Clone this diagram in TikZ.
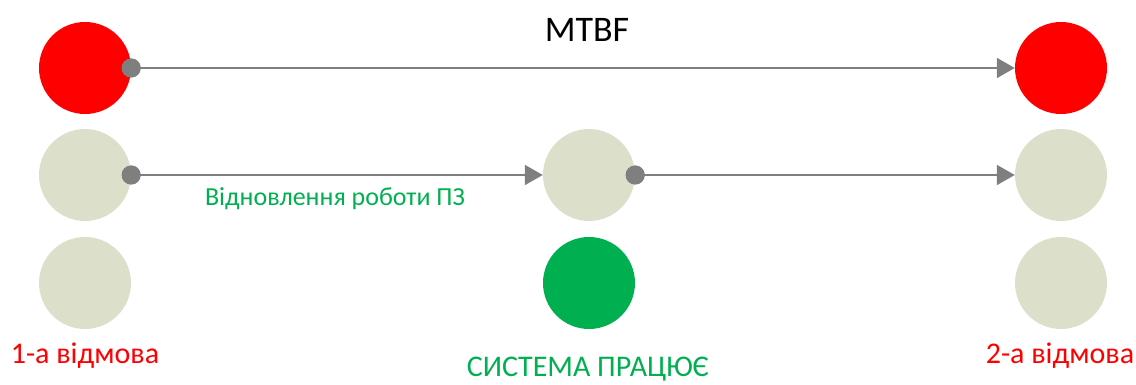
\documentclass[tikz,border=0pt]{standalone}
\usepackage{fontspec}
\setmainfont{Carlito}
\usetikzlibrary{arrows.meta}
\definecolor{cred}{HTML}{FF0000}
\definecolor{cgrey}{HTML}{DCE0CB}
\definecolor{cgreen}{HTML}{00B050}
\definecolor{cdot}{HTML}{7F7F7F}
\begin{document}
\begin{tikzpicture}[x=1pt,y=-1pt,
  ball/.style={circle,minimum size=92pt,inner sep=0pt,draw=none},
  dot/.style={circle,fill=cdot,minimum size=19pt,inner sep=0pt},
  conn/.style={draw=cdot,line width=1.8pt,-{Triangle[length=18pt,width=20pt]}},
  redlbl/.style={text=cred,font=\fontsize{30}{34}\selectfont},
  greenlbl/.style={text=cgreen,font=\fontsize{30}{34}\selectfont}]
\useasboundingbox (0,0) rectangle (1136,385);
\node[ball,fill=cred] (a1) at (85,68) {};
\node[ball,fill=cgrey] (a2) at (85,175) {};
\node[ball,fill=cgrey] (a3) at (85,283) {};
\node[ball,fill=cgrey] (b2) at (589,175) {};
\node[ball,fill=cgreen] (b3) at (589,283) {};
\node[ball,fill=cred] (c1) at (1061,68) {};
\node[ball,fill=cgrey] (c2) at (1061,175) {};
\node[ball,fill=cgrey] (c3) at (1061,283) {};
\node[dot] (d1) at (a1.east) {};
\node[dot] (d2) at (a2.east) {};
\node[dot] (d3) at (b2.east) {};
\draw[conn] (d1.center) -- (c1.west);
\draw[conn] (d2.center) -- (b2.west);
\draw[conn] (d3.center) -- (c2.west);
\node[dot] at (a1.east) {};
\node[dot] at (a2.east) {};
\node[dot] at (b2.east) {};
\node[font=\fontsize{36}{40}\selectfont] (mtbf) at (587,30) {MTBF};
\node[text=cgreen,font=\fontsize{26}{30}\selectfont] (rec) at (335,199) {Відновлення роботи ПЗ};
\node[redlbl] (l1) at (85,356) {1-а відмова};
\node[greenlbl] (l2) at (588,369) {СИСТЕМА ПРАЦЮЄ};
\node[redlbl] (l3) at (1060,356) {2-а відмова};
\end{tikzpicture}
\end{document}
